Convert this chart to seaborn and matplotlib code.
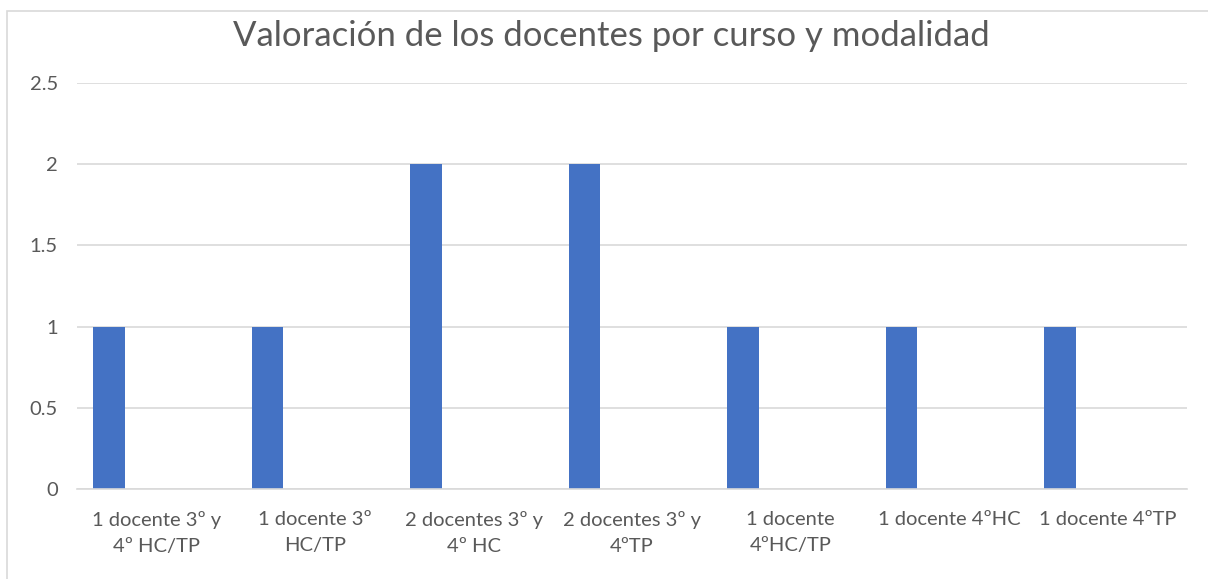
import matplotlib
matplotlib.use("Agg")
import matplotlib.pyplot as plt
from matplotlib.patches import Rectangle
import pandas as pd
import seaborn as sns

# Course / modality categories (x axis)
cursos = [
    "1 docente 3º y\n4º HC/TP",
    "1 docente 3º\nHC/TP",
    "2 docentes 3º y\n4º HC",
    "2 docentes 3º y\n4ºTP",
    "1 docente\n4ºHC/TP",
    "1 docente 4ºHC",
    "1 docente 4ºTP",
]
# Rating values of the only populated series
valoracion = [1, 1, 2, 2, 1, 1, 1]
# Series slots of the workbook (only the first one carries data)
series = ["Serie1", "Serie2", "Serie3", "Serie4"]
yticks = [0, 0.5, 1, 1.5, 2, 2.5]

df = pd.DataFrame({"curso": cursos, "valoracion": valoracion, "serie": series[0]})

sns.set_theme(style="white")
plt.rcParams["font.family"] = ["Lato", "DejaVu Sans"]

fig = plt.figure(figsize=(12.08, 5.79), dpi=100)
ax = fig.add_axes([0.064, 0.1554, 0.9184, 0.7012])

sns.barplot(
    data=df, x="curso", y="valoracion", hue="serie",
    hue_order=series, order=cursos, palette=["#4472C4"] * len(series),
    width=0.8, dodge=True, errorbar=None, legend=False, ax=ax,
    saturation=1, linewidth=0,
)

ax.set_ylim(0, 2.5)
ax.set_yticks(yticks)
ax.set_yticklabels(["0", "0.5", "1", "1.5", "2", "2.5"])
ax.set_xlim(-0.5, len(cursos) - 0.5)
ax.yaxis.grid(True, color="#d9d9d9", linewidth=1.2)
ax.set_axisbelow(True)
for side in ["left", "right", "top"]:
    ax.spines[side].set_visible(False)
ax.spines["bottom"].set_color("#d9d9d9")
ax.spines["bottom"].set_linewidth(1.2)
ax.set_xlabel("")
ax.set_ylabel("")
ax.tick_params(axis="both", length=0, colors="#595959", labelsize=14.5)
ax.tick_params(axis="y", pad=14)
ax.tick_params(axis="x", pad=16)
for lbl in ax.get_xticklabels():
    lbl.set_linespacing(1.6)

fig.text(0.506, 0.938, "Valoración de los docentes por curso y modalidad",
         ha="center", va="center", fontsize=25, color="#595959")

# chart-area frame
fig.patches.append(Rectangle((7.5 / 1208, -0.1), 1.2, 0.1 + (579 - 10.5) / 579,
                             transform=fig.transFigure, fill=False,
                             edgecolor="#d9d9d9", linewidth=1.2))

fig.savefig("out.png", dpi=100)
